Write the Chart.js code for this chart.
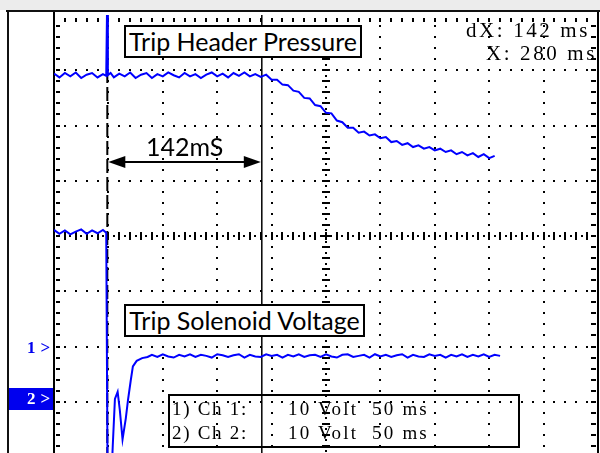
<!DOCTYPE html>
<html>
<head>
<meta charset="utf-8">
<script src="https://cdn.jsdelivr.net/npm/chart.js@4.4.1/dist/chart.umd.min.js"></script>
<style>
  html, body { margin: 0; padding: 0; }
  body { width: 600px; height: 453px; overflow: hidden; position: relative; background: #fff; }
  #wrap { position: absolute; left: 0; top: 0; width: 600px; height: 462px; }
  .band { position: absolute; left: 0; top: 0; width: 600px; height: 10px; background: #ececec; }
  .frame-top { position: absolute; left: 6px; top: 10px; width: 594px; height: 2px; background: #111; }
  .frame-left { position: absolute; left: 7px; top: 10px; width: 2px; height: 443px; background: #111; }
  .box { position: absolute; box-sizing: border-box; background: #fff; border: 2px solid #000;
         font-family: Lato, sans-serif; font-size: 25px; line-height: 28px; text-align: center; color: #000; }
  .note { position: absolute; font-family: Lato, sans-serif; font-size: 25px; line-height: 26px; color: #000; }
  .scope { position: absolute; font-family: "Liberation Serif", serif; color: #000; white-space: pre; }
  .marker { position: absolute; font-family: "Liberation Serif", serif; font-weight: bold; font-size: 17px;
            line-height: 22px; letter-spacing: 5px; white-space: pre; }
</style>
</head>
<body>
<div class="band"></div>
<div class="frame-top"></div>
<div class="frame-left"></div>
<div id="wrap"><canvas id="scope" width="600" height="462"></canvas></div>

<div class="box" style="left:124px; top:25px; width:238px; height:33px;">Trip Header Pressure</div>
<div class="box" style="left:124px; top:304px; width:241px; height:33px;">Trip Solenoid Voltage</div>
<div class="note" style="left:146px; top:133px;">142mS</div>

<div class="scope" style="left:466px; top:18px; font-size:21px; letter-spacing:2.6px;">dX: 142 ms</div>
<div class="scope" style="left:486px; top:41px; font-size:21px; letter-spacing:2.6px;">X: 280 ms</div>

<div style="position:absolute; left:168px; top:394px; width:352px; height:54px; box-sizing:border-box; border:2px solid #000;"></div>
<div class="scope" style="left:172px; top:398px; font-size:19px; letter-spacing:1.7px;">1) Ch 1:</div>
<div class="scope" style="left:288px; top:398px; font-size:19px; letter-spacing:2.2px;">10 Volt  50 ms</div>
<div class="scope" style="left:172px; top:422px; font-size:19px; letter-spacing:1.7px;">2) Ch 2:</div>
<div class="scope" style="left:288px; top:422px; font-size:19px; letter-spacing:2.2px;">10 Volt  50 ms</div>

<div class="marker" style="left:27px; top:337px; color:#0000ee;">1&gt;</div>
<div style="position:absolute; left:9px; top:388px; width:44px; height:22px; background:#0000ee;"></div>
<div class="marker" style="left:27px; top:388px; color:#fff;">2&gt;</div>

<script>
// time in ms from the left edge of the screen, volts relative to the screen centre
const xDivs = [0, 50, 100, 150, 200, 250, 300, 350, 400, 450, 500];
const yDivs = [-40, -30, -20, -10, 0, 10, 20, 30, 40];
const cursorTimes = [49, 191];
const arrowLevel = 13.4;

// Ch 1 - trip header pressure
const pressureTime = [0, 5, 10, 15, 20, 25, 30, 35, 40, 45, 48, 49, 49.5, 52,
  55, 60, 65, 70, 75, 80, 85, 90, 95, 100, 105, 110, 115, 120, 125, 130, 135, 140, 145,
  150, 155, 160, 165, 170, 175, 180, 185,
  190, 195, 200, 205, 210, 215, 220, 225, 230, 235, 240, 245, 250, 255, 260, 265, 270,
  275, 280, 285, 290, 295, 300, 305, 310, 315, 320, 325, 330, 335, 340, 345, 350, 355,
  360, 365, 370, 375, 380, 385, 390, 395, 400, 405];
const pressureVolts = [29.4, 28.7, 29.5, 28.9, 29.6, 28.6, 29.2, 29.5, 28.7, 29.3, 29.0, 45, 29.1, 29.5,
  28.7, 29.4, 28.9, 29.6, 28.6, 29.2, 29.5, 28.6, 29.3, 28.9, 29.6, 29.1, 28.7, 29.5, 28.9, 29.3, 28.6, 29.2, 29.6,
  28.9, 29.4, 28.7, 29.5, 29.0, 29.6, 28.9, 29.3,
  28.8, 29.2, 28.3, 28.3, 27.4, 27.3, 26.3, 26.1, 25.0, 24.9, 23.7, 23.5, 22.3, 22.2, 20.9, 20.6, 19.6,
  19.6, 18.7, 18.9, 18.2, 18.4, 17.7, 17.9, 17.0, 17.2, 16.5, 16.8, 16.1, 16.4, 15.8, 16.1, 15.5, 15.8,
  15.2, 15.5, 14.8, 15.2, 14.6, 15.0, 14.3, 14.8, 14.1, 14.5];

// Ch 2 - trip solenoid voltage
const solenoidTime = [0, 5, 10, 15, 20, 25, 30, 35, 40, 45, 48, 49.3, 50.5, 52.5, 54, 56, 58.5, 60.5,
  63, 66, 68, 70.5, 72.5, 76, 81, 86,
  90, 95, 100, 105, 110, 115, 120, 125, 130, 135, 140, 145, 150, 155, 160, 165, 170, 175,
  180, 185, 190, 195, 200, 205, 210, 215, 220, 225, 230, 235, 240, 245, 250, 255, 260, 265,
  270, 275, 280, 285, 290, 295, 300, 305, 310, 315, 320, 325, 330, 335, 340, 345, 350, 355,
  360, 365, 370, 375, 380, 385, 390, 395, 400, 405, 410];
const solenoidVolts = [1.1, 0.4, 1.0, 0.3, 0.8, 1.2, 0.4, 1.0, 0.5, 1.1, 0.6, -45, -45, -45, -38, -29.5, -28.2, -31.5,
  -36.8, -33.0, -29.7, -26.2, -23.6, -22.6, -22.1, -21.9,
  -21.5, -21.9, -21.4, -21.8, -22.0, -21.5, -21.8, -21.4, -21.9, -21.5, -21.7, -22.0, -21.4, -21.6,
  -21.9, -21.6, -21.4, -22.0, -21.5, -21.8, -21.9, -21.4, -21.7, -21.5, -22.0, -21.5, -21.8, -21.4,
  -21.9, -21.6, -21.5, -21.9, -21.4, -21.8, -22.0, -21.5, -21.4, -21.9, -21.7, -21.5, -22.0, -21.4,
  -21.8, -21.5, -21.9, -21.6, -21.4, -22.0, -21.5, -21.8, -21.9, -21.4, -21.7, -21.5, -22.0, -21.5,
  -21.8, -21.4, -21.9, -21.5, -21.8, -21.4, -21.9, -21.5, -21.7];

function points(times, volts) {
  return times.map(function (t, i) { return { x: t, y: volts[i] }; });
}

const scopeGrid = {
  id: "scopeGrid",
  beforeDatasetsDraw(chart) {
    const { ctx, chartArea: a, scales: { x, y } } = chart;
    const tMin = xDivs[0], tMax = xDivs[xDivs.length - 1];
    const vMin = yDivs[0], vMax = yDivs[yDivs.length - 1];
    const tMid = xDivs[5], vMid = yDivs[4];
    const tStep = (xDivs[1] - xDivs[0]) / 5;
    const vStep = (yDivs[1] - yDivs[0]) / 5;
    ctx.save();
    ctx.fillStyle = "#000";
    const dot = function (px, py) { ctx.fillRect(Math.round(px) - 1, Math.round(py) - 1, 2, 2); };

    // horizontal lines of dots
    yDivs.forEach(function (v) {
      if (v === vMin || v === vMax) return;
      const py = y.getPixelForValue(v);
      for (let t = tMin + tStep; t < tMax; t += tStep) {
        if (v === vMid) {
          ctx.fillRect(Math.round(x.getPixelForValue(t)) - 1, Math.round(py) - 4, 2, 8);
          dot(x.getPixelForValue(t - tStep / 2), py);
        } else {
          dot(x.getPixelForValue(t), py);
        }
      }
      if (v === vMid) dot(x.getPixelForValue(tMax - tStep / 2), py);
    });

    // vertical lines of dots
    xDivs.forEach(function (t) {
      if (t === tMin || t === tMax) return;
      const px = x.getPixelForValue(t);
      for (let v = vMin + vStep; v < vMax; v += vStep) {
        if (t === tMid) {
          ctx.fillRect(Math.round(px) - 4, Math.round(y.getPixelForValue(v)) - 1, 8, 2);
          dot(px, y.getPixelForValue(v - vStep / 2));
        } else {
          dot(px, y.getPixelForValue(v));
        }
      }
    });

    // border ticks
    for (let v = vMin + vStep; v < vMax; v += vStep) {
      const py = Math.round(y.getPixelForValue(v)) - 1;
      ctx.fillRect(a.left + 2, py, 4, 2);
      ctx.fillRect(a.right - 7, py, 5, 2);
    }
    for (let t = tMin + tStep; t < tMax; t += tStep) {
      ctx.fillRect(Math.round(x.getPixelForValue(t)) - 1, a.top + 3, 2, 4);
    }

    // screen border
    ctx.fillRect(a.left - 1, a.top - 3, 2, a.bottom - a.top + 3);
    ctx.fillRect(a.right - 1, a.top - 3, 2, a.bottom - a.top + 3);

    // cursors
    ctx.strokeStyle = "#000";
    ctx.lineWidth = 2;
    ctx.setLineDash([14, 4]);
    ctx.beginPath();
    ctx.moveTo(x.getPixelForValue(cursorTimes[0]), a.top);
    ctx.lineTo(x.getPixelForValue(cursorTimes[0]), a.bottom);
    ctx.stroke();
    ctx.setLineDash([]);
    ctx.lineWidth = 1.5;
    ctx.beginPath();
    ctx.moveTo(x.getPixelForValue(cursorTimes[1]), a.top);
    ctx.lineTo(x.getPixelForValue(cursorTimes[1]), a.bottom);
    ctx.stroke();
    ctx.restore();
  },
  afterDatasetsDraw(chart) {
    const { ctx, scales: { x, y } } = chart;
    const x1 = x.getPixelForValue(cursorTimes[0]);
    const x2 = x.getPixelForValue(cursorTimes[1]);
    const py = y.getPixelForValue(arrowLevel);
    ctx.save();
    ctx.strokeStyle = "#000";
    ctx.fillStyle = "#000";
    ctx.lineWidth = 2;
    ctx.beginPath();
    ctx.moveTo(x1 + 10, py);
    ctx.lineTo(x2 - 10, py);
    ctx.stroke();
    ctx.beginPath();
    ctx.moveTo(x1 + 1, py);
    ctx.lineTo(x1 + 18, py - 6);
    ctx.lineTo(x1 + 18, py + 6);
    ctx.closePath();
    ctx.fill();
    ctx.beginPath();
    ctx.moveTo(x2 - 1, py);
    ctx.lineTo(x2 - 18, py - 6);
    ctx.lineTo(x2 - 18, py + 6);
    ctx.closePath();
    ctx.fill();
    ctx.restore();
  }
};

new Chart(document.getElementById("scope"), {
  type: "line",
  data: {
    datasets: [
      {
        label: "Trip Header Pressure",
        data: points(pressureTime, pressureVolts),
        borderColor: "#0000ff",
        borderWidth: 2,
        pointRadius: 0,
        tension: 0
      },
      {
        label: "Trip Solenoid Voltage",
        data: points(solenoidTime, solenoidVolts),
        borderColor: "#0000ff",
        borderWidth: 2,
        pointRadius: 0,
        tension: 0
      }
    ]
  },
  options: {
    responsive: false,
    animation: false,
    devicePixelRatio: 1,
    layout: { padding: { left: 54, top: 15, right: 2, bottom: 5 } },
    scales: {
      x: { type: "linear", min: xDivs[0], max: xDivs[xDivs.length - 1], display: false },
      y: { type: "linear", min: yDivs[0], max: yDivs[yDivs.length - 1], display: false }
    },
    plugins: {
      legend: { display: false },
      tooltip: { enabled: false }
    }
  },
  plugins: [scopeGrid]
});
</script>
</body>
</html>
